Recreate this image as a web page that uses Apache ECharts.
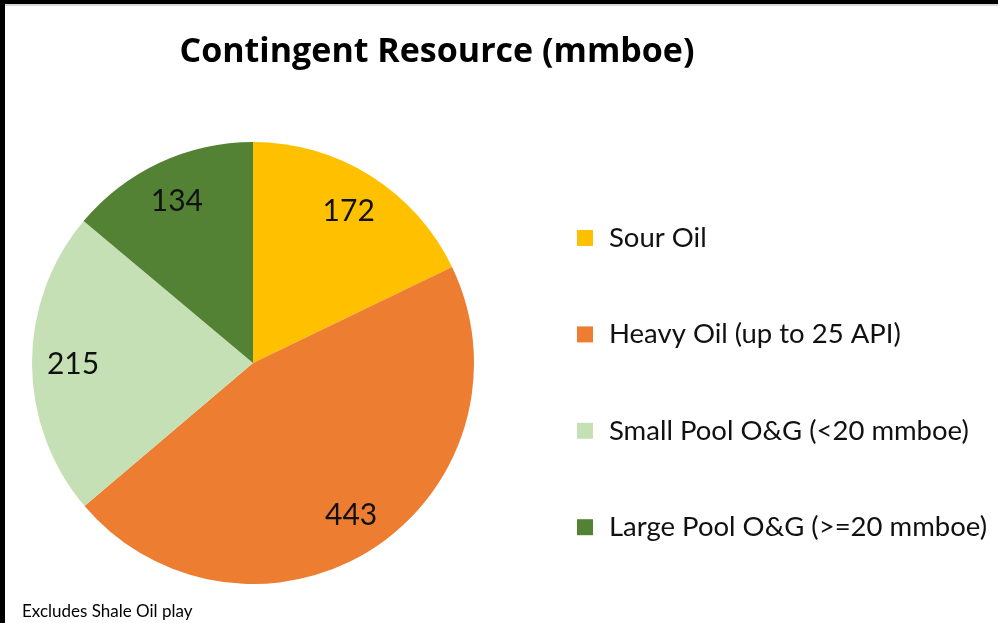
<!DOCTYPE html>
<html>
<head>
<meta charset="utf-8">
<script src="https://cdn.jsdelivr.net/npm/echarts@6/dist/echarts.min.js"></script>
<style>
  html, body { margin: 0; padding: 0; background: #fff; }
  #wrap { position: relative; width: 998px; height: 623px; overflow: hidden; }
  #chart { position: absolute; left: 0; top: 0; width: 998px; height: 623px; }
  .bt { position: absolute; left: 0; top: 0; width: 998px; height: 4px; background: #000; }
  .bt2 { position: absolute; left: 0; top: 4px; width: 998px; height: 2px; background: #d9d9d9; }
  .bl { position: absolute; left: 0; top: 0; width: 5px; height: 623px; background: #000; }
</style>
</head>
<body>
<div id="wrap">
  <div id="chart"></div>
  <div class="bt2"></div>
  <div class="bt"></div>
  <div class="bl"></div>
</div>
<script>
const titleText = 'Contingent Resource (mmboe)';
const footnote = 'Excludes Shale Oil play';
const categories = ['Sour Oil', 'Heavy Oil (up to 25 API)', 'Small Pool O&G (<20 mmboe)', 'Large Pool O&G (>=20 mmboe)'];
const values = [172, 443, 215, 134];
const colors = ['#FFC000', '#ED7D31', '#C5E0B4', '#548235'];

const FONT = 'Lato, "Open Sans", sans-serif';
const TITLE_FONT = '"Open Sans", Lato, sans-serif';
const data = categories.map((c, i) => ({ name: c, value: values[i], itemStyle: { color: colors[i] } }));
const labelData = categories.map((c, i) => ({ name: c, value: values[i] }));

const chart = echarts.init(document.getElementById('chart'), null, { renderer: 'canvas' });
chart.setOption({
  animation: false,
  backgroundColor: '#fff',
  color: colors,
  title: [
    {
      text: titleText,
      left: 437, top: 35, textAlign: 'center', padding: 0,
      textStyle: { fontFamily: TITLE_FONT, fontWeight: 'bold', fontSize: 34, color: '#000' }
    },
    {
      text: footnote,
      left: 22, top: 603, padding: 0,
      textStyle: { fontFamily: FONT, fontWeight: 'normal', fontSize: 17, color: '#000' }
    }
  ],
  legend: {
    orient: 'vertical',
    left: 577, top: 224, padding: 0,
    itemWidth: 16, itemHeight: 16, itemGap: 68.4,
    icon: 'rect',
    data: categories,
    textStyle: { fontFamily: FONT, fontSize: 27.5, color: '#111', padding: [0, 0, 0, 11] }
  },
  series: [
    {
      type: 'pie',
      name: 'Contingent Resource',
      center: [253, 363],
      radius: 221,
      startAngle: 90,
      clockwise: true,
      label: { show: false },
      labelLine: { show: false },
      emphasis: { disabled: true },
      itemStyle: { borderWidth: 0 },
      data: data
    },
    {
      type: 'pie',
      name: 'labels',
      center: [253, 364],
      radius: 354,
      startAngle: 90,
      clockwise: true,
      silent: true,
      itemStyle: { color: 'rgba(0,0,0,0)', borderWidth: 0 },
      label: {
        show: true, position: 'inside',
        formatter: '{c}',
        fontFamily: FONT, fontSize: 30, color: '#111'
      },
      labelLine: { show: false },
      emphasis: { disabled: true },
      data: labelData
    }
  ]
});
</script>
</body>
</html>
